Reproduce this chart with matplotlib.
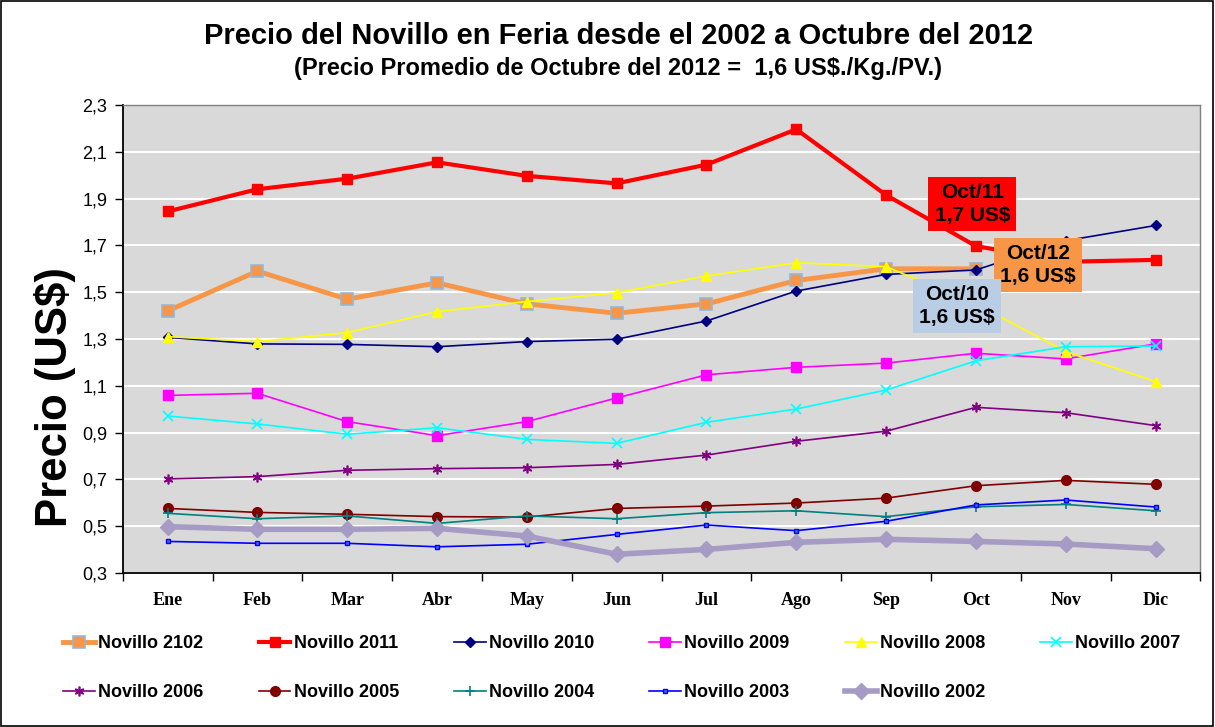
import matplotlib.pyplot as plt
from matplotlib.patches import Rectangle
from matplotlib.ticker import FixedLocator, FuncFormatter

plt.rcParams["font.family"] = ["Liberation Sans", "DejaVu Sans"]

meses = ["Ene", "Feb", "Mar", "Abr", "May", "Jun", "Jul", "Ago", "Sep", "Oct", "Nov", "Dic"]

nov_2012 = [1.42, 1.59, 1.47, 1.54, 1.45, 1.41, 1.45, 1.55, 1.60, 1.60]
nov_2011 = [1.845, 1.94, 1.985, 2.055, 1.997, 1.965, 2.045, 2.196, 1.915, 1.697, 1.63, 1.638]
nov_2010 = [1.307, 1.279, 1.277, 1.267, 1.289, 1.299, 1.377, 1.505, 1.576, 1.595, 1.72, 1.785]
nov_2009 = [1.059, 1.068, 0.947, 0.887, 0.947, 1.048, 1.147, 1.179, 1.197, 1.239, 1.215, 1.279]
nov_2008 = [1.31, 1.289, 1.327, 1.417, 1.46, 1.498, 1.569, 1.626, 1.609, 1.45, 1.246, 1.118]
nov_2007 = [0.971, 0.937, 0.893, 0.921, 0.871, 0.854, 0.944, 1.001, 1.082, 1.207, 1.267, 1.27]
nov_2006 = [0.702, 0.712, 0.739, 0.746, 0.75, 0.764, 0.804, 0.863, 0.906, 1.008, 0.985, 0.93]
nov_2005 = [0.576, 0.559, 0.551, 0.541, 0.539, 0.576, 0.586, 0.599, 0.62, 0.673, 0.696, 0.679]
nov_2004 = [0.555, 0.532, 0.544, 0.512, 0.544, 0.532, 0.558, 0.566, 0.541, 0.583, 0.593, 0.566]
nov_2003 = [0.435, 0.427, 0.427, 0.412, 0.423, 0.465, 0.505, 0.481, 0.521, 0.591, 0.612, 0.582]
nov_2002 = [0.498, 0.487, 0.487, 0.491, 0.458, 0.38, 0.401, 0.431, 0.444, 0.435, 0.424, 0.404]

yticks = [0.3, 0.5, 0.7, 0.9, 1.1, 1.3, 1.5, 1.7, 1.9, 2.1, 2.3]

series = [
    ("Novillo 2102", nov_2012, dict(color="#F79646", lw=3.5, marker="s", ms=8, mfc="#F79646", mec="#93B8DD", mew=1.2)),
    ("Novillo 2011", nov_2011, dict(color="#FF0000", lw=3, marker="s", ms=7.5, mfc="#FF0000", mec="#FF0000")),
    ("Novillo 2010", nov_2010, dict(color="#000080", lw=1.2, marker="D", ms=5, mfc="#000080", mec="#000080")),
    ("Novillo 2009", nov_2009, dict(color="#FF00FF", lw=1.2, marker="s", ms=6.5, mfc="#FF00FF", mec="#FF00FF")),
    ("Novillo 2008", nov_2008, dict(color="#FFFF00", lw=1.2, marker="^", ms=7, mfc="#FFFF00", mec="#FFFF00")),
    ("Novillo 2007", nov_2007, dict(color="#00FFFF", lw=1.2, marker="x", ms=7, mew=1.2)),
    ("Novillo 2006", nov_2006, dict(color="#800080", lw=1.2, marker=(6, 2, 0), ms=7, mew=1.2)),
    ("Novillo 2005", nov_2005, dict(color="#800000", lw=1.2, marker="o", ms=7, mfc="#800000", mec="#800000")),
    ("Novillo 2004", nov_2004, dict(color="#008080", lw=1.2, marker="+", ms=7, mew=1.2)),
    ("Novillo 2003", nov_2003, dict(color="#0000FF", lw=1.2, marker="s", ms=3.5, mfc="#4060FF", mec="#0000FF")),
    ("Novillo 2002", nov_2002, dict(color="#A59BC4", lw=4, marker="D", ms=8, mfc="#A59BC4", mec="#A59BC4")),
]

fig = plt.figure(figsize=(12.15, 7.27), dpi=100)
ax = fig.add_axes([0.101, 0.2118, 0.887, 0.6438])
ax.set_facecolor("#D9D9D9")

handles = []
for i, (nombre, valores, estilo) in enumerate(series):
    h, = ax.plot(range(len(valores)), valores, label=nombre, zorder=3 + i, **estilo)
    handles.append(h)

ax.set_xlim(-0.5, 11.5)
ax.set_ylim(0.3, 2.3)
ax.set_yticks(yticks)
ax.yaxis.set_major_formatter(FuncFormatter(lambda v, p: f"{v:.1f}".replace(".", ",")))
ax.grid(axis="y", color="white", lw=1.5, zorder=1)
ax.tick_params(axis="y", direction="out", length=6, width=1, labelsize=13, pad=5)

ax.xaxis.set_major_locator(FixedLocator([i - 0.5 for i in range(13)]))
ax.xaxis.set_minor_locator(FixedLocator(list(range(12))))
ax.set_xticklabels([])
ax.set_xticklabels(meses, minor=True, fontfamily="Liberation Serif", fontweight="bold", fontsize=13)
ax.tick_params(axis="x", which="major", direction="out", length=6, width=1)
ax.tick_params(axis="x", which="minor", length=0, pad=14)

for s in ["left", "bottom"]:
    ax.spines[s].set_color("black")
    ax.spines[s].set_linewidth(1.3)
for s in ["top", "right"]:
    ax.spines[s].set_color("#808080")
    ax.spines[s].set_linewidth(1)

# cuadros de texto
caja = dict(ha="center", va="center", fontsize=15, fontweight="bold", linespacing=1.25, zorder=20)
ax.text(8.96, 1.877, "Oct/11\n1,7 US$", bbox=dict(boxstyle="square,pad=0.3", fc="#FF0000", ec="none"), **caja)
ax.text(9.69, 1.616, "Oct/12\n1,6 US$", bbox=dict(boxstyle="square,pad=0.3", fc="#F79646", ec="none"), **caja)
ax.text(8.79, 1.441, "Oct/10\n1,6 US$", bbox=dict(boxstyle="square,pad=0.3", fc="#B9CDE5", ec="none"), **caja)

fig.text(0.5095, 0.951, "Precio del Novillo en Feria desde el 2002 a Octubre del 2012",
         ha="center", va="center", fontsize=21, fontweight="bold")
fig.text(0.5085, 0.906, "(Precio Promedio de Octubre del 2012 =  1,6 US$./Kg./PV.)",
         ha="center", va="center", fontsize=17, fontweight="bold")
fig.text(0.0453, 0.454, "Precio (US$)", rotation=90, ha="center", va="center",
         fontsize=31.5, fontweight="bold")

orden = [0, 6, 1, 7, 2, 8, 3, 9, 4, 10, 5]
fig.legend([handles[i] for i in orden], [series[i][0] for i in orden], ncol=6,
           loc="upper left", bbox_to_anchor=(0.052, 0.126), frameon=False,
           prop=dict(weight="bold", size=13), handlelength=1.77, handletextpad=0.17,
           columnspacing=3.05, labelspacing=1.75, borderaxespad=0, borderpad=0)

fig.patches.append(Rectangle((0.001, 0.002), 0.997, 0.996, transform=fig.transFigure,
                             fill=False, ec="black", lw=1.2))

plt.savefig("out.png", dpi=100)
plt.close()
